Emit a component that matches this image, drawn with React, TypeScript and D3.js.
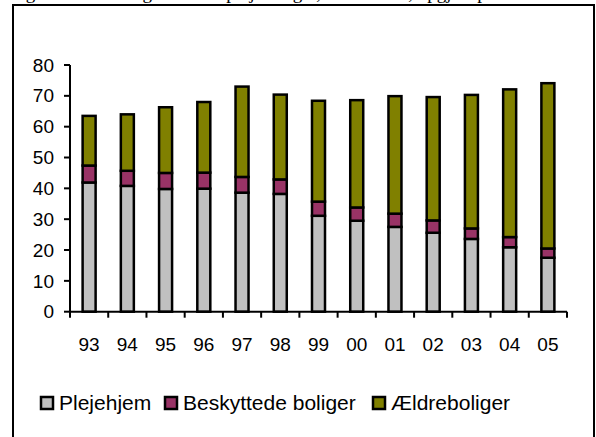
import React, { useRef, useEffect } from 'react';
import * as d3 from 'd3';

// years on the x axis
const years = ['93', '94', '95', '96', '97', '98', '99', '00', '01', '02', '03', '04', '05'];
// series
const plejehjem = [41.9, 40.8, 39.8, 39.9, 38.6, 38.2, 31.1, 29.5, 27.5, 25.6, 23.6, 20.9, 17.5];
const beskyttede = [5.5, 4.9, 5.2, 5.2, 5.1, 4.7, 4.6, 4.3, 4.3, 4.0, 3.4, 3.3, 3.0];
const aeldre = [16.1, 18.3, 21.3, 22.9, 29.3, 27.5, 32.7, 34.8, 38.1, 40.0, 43.3, 47.9, 53.6];
const seriesNames = ['Plejehjem', 'Beskyttede boliger', 'Ældreboliger'];
const seriesColors = ['#C0C0C0', '#993366', '#808000'];
const yTicks = [0, 10, 20, 30, 40, 50, 60, 70, 80];

var width = 596;
var height = 437;
var font = 'Arial, "Liberation Sans", sans-serif';

export default function App() {
  const d3Container = useRef<SVGSVGElement | null>(null);

  useEffect(() => {
    const svg = d3.select(d3Container.current);
    svg.selectAll('*').remove();

    // caption above the frame, cut off by the top edge in the original
    svg
      .append('text')
      .attr('x', 10)
      .attr('y', -1)
      .attr('font-family', '"Liberation Serif", "Times New Roman", serif')
      .attr('font-size', 19)
      .text('Figur 3. Udviklingen i antal plejeboliger, 1993-2005, opgjort pr. 1.000 ældre');

    // frame
    svg
      .append('rect')
      .attr('x', 13)
      .attr('y', 5)
      .attr('width', 581)
      .attr('height', 450)
      .attr('fill', 'none')
      .attr('stroke', '#000')
      .attr('stroke-width', 2);

    const x = d3.scaleBand().domain(years).range([70, 567]).paddingInner(0).paddingOuter(0);
    const y = d3.scaleLinear().domain([0, 80]).range([311.7, 65]);

    const table = years.map((yr, i) => ({
      year: yr,
      Plejehjem: plejehjem[i],
      'Beskyttede boliger': beskyttede[i],
      Ældreboliger: aeldre[i],
    }));
    const stacked = d3.stack<any>().keys(seriesNames)(table);

    const barW = 13;
    stacked.forEach((layer, k) => {
      svg
        .append('g')
        .selectAll('rect')
        .data(layer)
        .enter()
        .append('rect')
        .attr('x', (d: any) => (x(d.data.year) as number) + x.bandwidth() / 2 - barW / 2)
        .attr('y', d => y(d[1]))
        .attr('width', barW)
        .attr('height', d => y(d[0]) - y(d[1]))
        .attr('fill', seriesColors[k])
        .attr('stroke', '#000')
        .attr('stroke-width', 2.5);
    });

    // y axis
    const yAxis = svg.append('g').attr('transform', 'translate(70,0)');
    yAxis
      .append('line')
      .attr('x1', 0)
      .attr('x2', 0)
      .attr('y1', y(80))
      .attr('y2', y(0))
      .attr('stroke', '#000')
      .attr('stroke-width', 2);
    yTicks.forEach(t => {
      yAxis
        .append('line')
        .attr('x1', -6)
        .attr('x2', 0)
        .attr('y1', y(t))
        .attr('y2', y(t))
        .attr('stroke', '#000')
        .attr('stroke-width', 2);
      yAxis
        .append('text')
        .attr('x', -16)
        .attr('y', y(t))
        .attr('dy', '0.35em')
        .attr('text-anchor', 'end')
        .attr('font-family', font)
        .attr('font-size', 19)
        .text(t);
    });

    // x axis
    const xAxis = svg.append('g').attr('transform', 'translate(0,' + y(0) + ')');
    xAxis
      .append('line')
      .attr('x1', 70)
      .attr('x2', 567)
      .attr('stroke', '#000')
      .attr('stroke-width', 2);
    years.concat(['end']).forEach((yr, i) => {
      const px = 70 + i * x.bandwidth();
      xAxis
        .append('line')
        .attr('x1', px)
        .attr('x2', px)
        .attr('y1', 0)
        .attr('y2', 6)
        .attr('stroke', '#000')
        .attr('stroke-width', 2);
    });
    years.forEach(yr => {
      xAxis
        .append('text')
        .attr('x', (x(yr) as number) + x.bandwidth() / 2)
        .attr('y', 33)
        .attr('dy', '0.35em')
        .attr('text-anchor', 'middle')
        .attr('font-family', font)
        .attr('font-size', 19)
        .text(yr);
    });

    // legend
    const legendX = [41, 165, 373];
    seriesNames.forEach((name, k) => {
      const g = svg.append('g').attr('transform', 'translate(' + legendX[k] + ',403)');
      g.append('rect')
        .attr('x', 0)
        .attr('y', -6)
        .attr('width', 12)
        .attr('height', 12)
        .attr('fill', seriesColors[k])
        .attr('stroke', '#000')
        .attr('stroke-width', 2.5);
      g.append('text')
        .attr('x', 18)
        .attr('y', 0)
        .attr('dy', '0.35em')
        .attr('font-family', font)
        .attr('font-size', 21)
        .text(name);
    });
  }, []);

  return (
    <svg
      ref={d3Container}
      width={width}
      height={height}
      style={{ position: 'absolute', left: 0, top: 0, background: '#fff' }}
    />
  );
}
